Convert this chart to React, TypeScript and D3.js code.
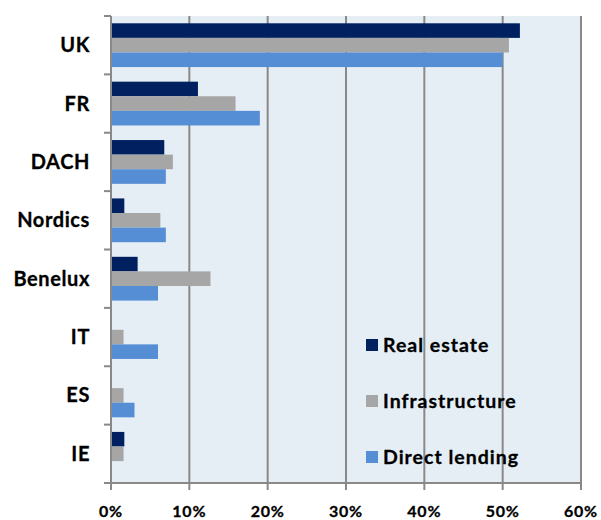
import React, { useEffect, useRef } from 'react';
import * as d3 from 'd3';

const categories = ['UK', 'FR', 'DACH', 'Nordics', 'Benelux', 'IT', 'ES', 'IE'];
const seriesNames = ['Real estate', 'Infrastructure', 'Direct lending'];
const realEstate = [52.2, 11.1, 6.8, 1.7, 3.4, 0, 0, 1.7];
const infrastructure = [50.8, 15.9, 7.9, 6.3, 12.7, 1.6, 1.6, 1.6];
const directLending = [50.0, 19.0, 7.0, 7.0, 6.0, 6.0, 3.0, 0];
const xTicks = [0, 10, 20, 30, 40, 50, 60];
const colors = ['#002060', '#A6A6A6', '#558ED5'];

const App = () => {
  const svgRef = useRef<SVGSVGElement>(null);

  useEffect(() => {
    const svg = d3.select(svgRef.current);
    svg.selectAll('*').remove();

    const width = 601;
    const height = 520;
    const margin = { top: 16, right: 20, bottom: 37, left: 111 };
    const innerWidth = width - margin.left - margin.right;
    const innerHeight = height - margin.top - margin.bottom;
    const font = 'Lato, "DejaVu Sans", sans-serif';

    const g = svg
      .append('g')
      .attr('transform', `translate(${margin.left},${margin.top})`);

    const x = d3.scaleLinear().domain([0, 60]).range([0, innerWidth]);
    const y = d3.scaleBand().domain(categories).range([0, innerHeight]).padding(0);
    const inner = d3
      .scaleBand()
      .domain(seriesNames)
      .range([y.bandwidth() * 0.125, y.bandwidth() * 0.875])
      .padding(0);

    // plot background
    g.append('rect')
      .attr('width', innerWidth)
      .attr('height', innerHeight)
      .attr('fill', '#E6EEF5');

    // gridlines
    g.selectAll('line.grid')
      .data(xTicks.slice(1))
      .enter()
      .append('line')
      .attr('class', 'grid')
      .attr('x1', d => x(d))
      .attr('x2', d => x(d))
      .attr('y1', 0)
      .attr('y2', innerHeight)
      .attr('stroke', '#898989')
      .attr('stroke-width', 2);

    // bars
    const series = [realEstate, infrastructure, directLending];
    series.forEach((values, si) => {
      g.selectAll(`rect.s${si}`)
        .data(values)
        .enter()
        .append('rect')
        .attr('class', `s${si}`)
        .attr('x', 0)
        .attr('y', (d, i) => (y(categories[i]) as number) + (inner(seriesNames[si]) as number))
        .attr('width', d => x(d))
        .attr('height', inner.bandwidth())
        .attr('fill', colors[si]);
    });

    // left axis
    g.append('line')
      .attr('x1', 0).attr('x2', 0)
      .attr('y1', 0).attr('y2', innerHeight)
      .attr('stroke', '#898989')
      .attr('stroke-width', 2);
    g.selectAll('line.ytick')
      .data(d3.range(categories.length + 1))
      .enter()
      .append('line')
      .attr('class', 'ytick')
      .attr('x1', -7).attr('x2', 0)
      .attr('y1', i => i * y.step())
      .attr('y2', i => i * y.step())
      .attr('stroke', '#898989')
      .attr('stroke-width', 2);

    g.selectAll('text.cat')
      .data(categories)
      .enter()
      .append('text')
      .attr('class', 'cat')
      .attr('x', -21)
      .attr('y', d => (y(d) as number) + y.bandwidth() / 2)
      .attr('dy', '0.35em')
      .attr('text-anchor', 'end')
      .style('font-family', font)
      .style('font-weight', 'bold')
      .style('font-size', '20px')
      .style('letter-spacing', '0.6px')
      .style('fill', '#000')
      .style('stroke', '#000')
      .style('stroke-width', '0.3px')
      .text(d => d);

    // bottom axis
    g.append('line')
      .attr('x1', 0).attr('x2', innerWidth)
      .attr('y1', innerHeight).attr('y2', innerHeight)
      .attr('stroke', '#898989')
      .attr('stroke-width', 2);
    g.selectAll('line.xtick')
      .data(xTicks)
      .enter()
      .append('line')
      .attr('class', 'xtick')
      .attr('x1', d => x(d)).attr('x2', d => x(d))
      .attr('y1', innerHeight).attr('y2', innerHeight + 7)
      .attr('stroke', '#898989')
      .attr('stroke-width', 2);
    g.selectAll('text.xlab')
      .data(xTicks)
      .enter()
      .append('text')
      .attr('class', 'xlab')
      .attr('x', d => x(d))
      .attr('y', innerHeight + 34)
      .attr('text-anchor', 'middle')
      .style('font-family', font)
      .style('font-weight', 'bold')
      .style('font-size', '16px')
      .style('letter-spacing', '0.8px')
      .style('fill', '#000')
      .style('stroke', '#000')
      .style('stroke-width', '0.3px')
      .text(d => `${d}%`);

    // legend
    const legend = g.append('g').attr('transform', `translate(${366 - margin.left}, ${345 - margin.top})`);
    seriesNames.forEach((name, i) => {
      const item = legend.append('g').attr('transform', `translate(0, ${i * 56})`);
      item.append('rect')
        .attr('x', 0)
        .attr('y', -6)
        .attr('width', 12)
        .attr('height', 12)
        .attr('fill', colors[i]);
      item.append('text')
        .attr('x', 17)
        .attr('y', 0)
        .attr('dy', '0.35em')
        .style('font-family', font)
        .style('font-weight', 'bold')
        .style('font-size', '19.5px')
        .style('letter-spacing', '1px')
        .style('fill', '#000')
        .style('stroke', '#000')
        .style('stroke-width', '0.3px')
        .text(name);
    });
  }, []);

  return (
    <svg
      ref={svgRef}
      width={601}
      height={520}
      style={{ position: 'absolute', left: 0, top: 0, background: '#fff' }}
    />
  );
};

export default App;
